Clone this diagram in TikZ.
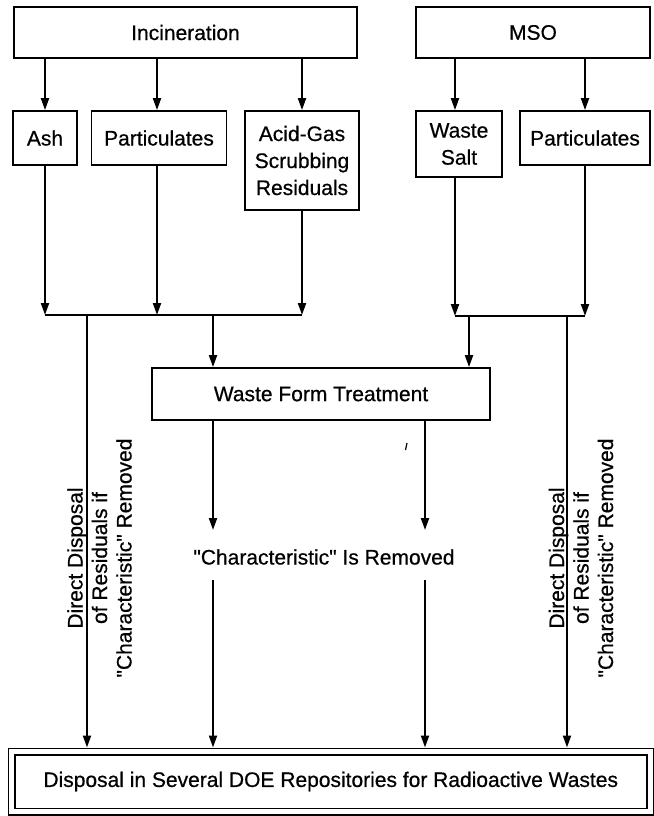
\documentclass[tikz,border=0pt]{standalone}
\usepackage{fontspec}
\setmainfont[FakeBold=0.6]{Liberation Sans}
\usetikzlibrary{arrows.meta}
\begin{document}
\begin{tikzpicture}[x=1pt,y=-1pt,
  font=\fontsize{21}{27}\selectfont,
  box/.style={draw,line width=1.8pt,inner sep=0pt,align=center},
  conn/.style={line width=2pt},
  arr/.style={conn,-{Triangle[width=8pt,length=12pt]}},
  sidelabel/.style={rotate=90,align=center,inner sep=0pt,font=\fontsize{21}{24.5}\selectfont}]
\useasboundingbox (0,0) rectangle (653,816);

% top boxes
\node[box,minimum width=343pt,minimum height=51pt] (inc) at (185.5,32.5) {Incineration};
\node[box,minimum width=234pt,minimum height=51pt] (mso) at (533,32.5) {MSO};

% second row
\node[box,minimum width=64pt,minimum height=54pt] (ash) at (45,138) {Ash};
\node[box,minimum width=135pt,minimum height=54pt] (part1) at (159,138) {Particulates};
\node[box,minimum width=114pt,minimum height=99pt] (acid) at (302,160.5) {Acid-Gas\\Scrubbing\\Residuals};
\node[box,minimum width=86pt,minimum height=66pt] (salt) at (459,144) {Waste\\Salt};
\node[box,minimum width=130pt,minimum height=54pt] (part2) at (585,138) {Particulates};

% treatment
\node[box,minimum width=338pt,minimum height=52pt] (wft) at (321,394) {Waste Form Treatment};
\node[inner sep=0pt] (char) at (324,557) {\textquotedbl Characteristic\textquotedbl{} Is Removed};

% disposal
\node[draw,line width=1.5pt,double,double distance=5pt,minimum width=638.5pt,minimum height=60pt,outer sep=4pt,inner sep=0pt] (disp) at (330.75,781.5) {Disposal in Several DOE Repositories for Radioactive Wastes};

% buses
\coordinate (busL1) at (45,315);
\coordinate (busL2) at (302,315);
\coordinate (busR1) at (455,316);
\coordinate (busR2) at (585,316);
\draw[conn] (busL1) -- (busL2);
\draw[conn] (busR1) -- (busR2);

% arrows from top boxes
\draw[arr] (ash.north |- inc.south) -- (ash.north);
\draw[arr] ([xshift=-2pt]part1.north |- inc.south) -- ([xshift=-2pt]part1.north);
\draw[arr] (acid.north |- inc.south) -- (acid.north);
\draw[arr] ([xshift=-4pt]salt.north |- mso.south) -- ([xshift=-4pt]salt.north);
\draw[arr] (part2.north |- mso.south) -- (part2.north);

% arrows down to buses
\draw[arr] (ash.south) -- (ash.south |- busL1);
\draw[arr] ([xshift=-2pt]part1.south) -- ([xshift=-2pt]part1.south |- busL1);
\draw[arr] (acid.south) -- (acid.south |- busL1);
\draw[arr] ([xshift=-4pt]salt.south) -- ([xshift=-4pt]salt.south |- busR1);
\draw[arr] (part2.south) -- (part2.south |- busR1);

% from buses
\coordinate (dL) at (87,315);
\coordinate (tL) at (213,315);
\coordinate (tR) at (469,316);
\coordinate (dR) at (567,316);
\draw[arr] (dL) -- (dL |- disp.north);
\draw[arr] (tL) -- (tL |- wft.north);
\draw[arr] (tR) -- (tR |- wft.north);
\draw[arr] (dR) -- (dR |- disp.north);

% from treatment through the removed label
\coordinate (w1a) at (213,530);
\coordinate (w2a) at (425,530);
\coordinate (w1b) at (213,580);
\coordinate (w2b) at (425,580);
\draw[arr] (w1a |- wft.south) -- (w1a);
\draw[arr] (w2a |- wft.south) -- (w2a);
\draw[arr] (w1b) -- (w1b |- disp.north);
\draw[arr] (w2b) -- (w2b |- disp.north);

% side labels
\node[sidelabel] (lblL) at (99.5,558) {Direct Disposal\\of Residuals if\\\textquotedbl Characteristic\textquotedbl{} Removed};
\node[sidelabel] (lblR) at (581,558) {Direct Disposal\\of Residuals if\\\textquotedbl Characteristic\textquotedbl{} Removed};

% stray mark
\draw[line width=1.2pt] (407,443) -- (405.5,450);
\end{tikzpicture}
\end{document}
